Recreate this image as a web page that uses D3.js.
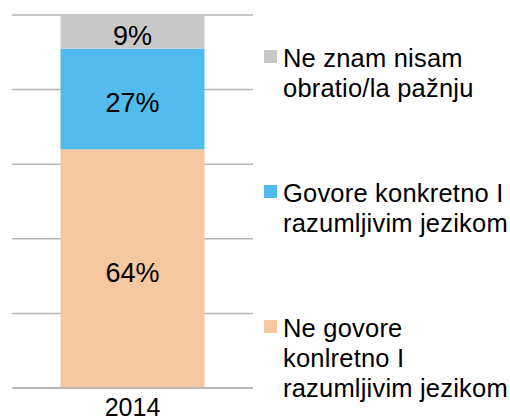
<!DOCTYPE html>
<html>
<head>
<meta charset="utf-8">
<script src="https://cdn.jsdelivr.net/npm/d3@7"></script>
<style>
  body { margin: 0; background: #fff; }
  svg { display: block; font-family: "Liberation Sans", Arial, sans-serif; }
</style>
</head>
<body>
<svg id="chart" width="510" height="420"></svg>
<script>
(function() {

    // data
    var years = ['2014'];
    var seriesNames = [
        'Ne govore konlretno I razumljivim jezikom',
        'Govore konkretno I razumljivim jezikom',
        'Ne znam nisam obratio/la pažnju'
    ];
    var seriesValues = [64, 27, 9]; // bottom -> top
    var seriesColors = ['#f5c8a0', '#52bbed', '#c8c8c8'];
    // legend text, split as in the picture (top -> bottom)
    var legendLines = [
        ['Ne znam nisam', 'obratio/la pažnju'],
        ['Govore konkretno I', 'razumljivim jezikom'],
        ['Ne govore', 'konlretno I', 'razumljivim jezikom']
    ];
    var gridTicks = [0, 20, 40, 60, 80, 100];

    var svg = d3.select('#chart');

    var x = d3.scaleBand()
        .domain(years)
        .range([12, 253])
        .padding(0.252);

    var y = d3.scaleLinear()
        .domain([0, 100])
        .range([388, 15]);

    // gridlines
    svg.append('g')
        .selectAll('line')
        .data(gridTicks)
        .enter()
        .append('line')
        .attr('x1', 12)
        .attr('x2', 253)
        .attr('y1', function(d) { return y(d); })
        .attr('y2', function(d) { return y(d); })
        .attr('stroke', '#b4b4b4')
        .attr('stroke-width', 1.5);

    // stack
    var row = {};
    seriesNames.forEach(function(n, i) { row[n] = seriesValues[i]; });
    var stacked = d3.stack().keys(seriesNames)([row]);

    var segs = svg.append('g')
        .selectAll('g')
        .data(stacked)
        .enter()
        .append('g');

    segs.append('rect')
        .attr('x', x('2014'))
        .attr('width', x.bandwidth())
        .attr('y', function(d) { return y(d[0][1]); })
        .attr('height', function(d) { return y(d[0][0]) - y(d[0][1]); })
        .attr('fill', function(d, i) { return seriesColors[i]; });

    segs.append('text')
        .attr('x', x('2014') + x.bandwidth() / 2)
        .attr('y', function(d) { return (y(d[0][0]) + y(d[0][1])) / 2; })
        .attr('dy', '0.5em')
        .attr('text-anchor', 'middle')
        .attr('font-size', 27)
        .attr('fill', '#000')
        .text(function(d, i) { return seriesValues[i] + '%'; });

    // redraw bottom gridline over bars
    svg.append('line')
        .attr('x1', 12)
        .attr('x2', 253)
        .attr('y1', y(0))
        .attr('y2', y(0))
        .attr('stroke', '#b4b4b4')
        .attr('stroke-width', 1.5);

    // x axis label
    svg.append('text')
        .attr('x', x('2014') + x.bandwidth() / 2)
        .attr('y', 416)
        .attr('text-anchor', 'middle')
        .attr('font-size', 25)
        .attr('fill', '#000')
        .text(years[0]);

    // legend
    var legendColors = seriesColors.slice().reverse();
    var legend = svg.append('g')
        .selectAll('g')
        .data(legendLines)
        .enter()
        .append('g')
        .attr('transform', function(d, i) { return 'translate(264,' + (50 + i * 135) + ')'; });

    legend.append('rect')
        .attr('width', 13)
        .attr('height', 13)
        .attr('fill', function(d, i) { return legendColors[i]; });

    legend.append('text')
        .attr('font-size', 25.5)
        .attr('letter-spacing', 0.2)
        .attr('fill', '#000')
        .selectAll('tspan')
        .data(function(d) { return d; })
        .enter()
        .append('tspan')
        .attr('x', 19)
        .attr('y', function(d, i) { return 17 + i * 30; })
        .text(function(d) { return d; });

})();
</script>
</body>
</html>
